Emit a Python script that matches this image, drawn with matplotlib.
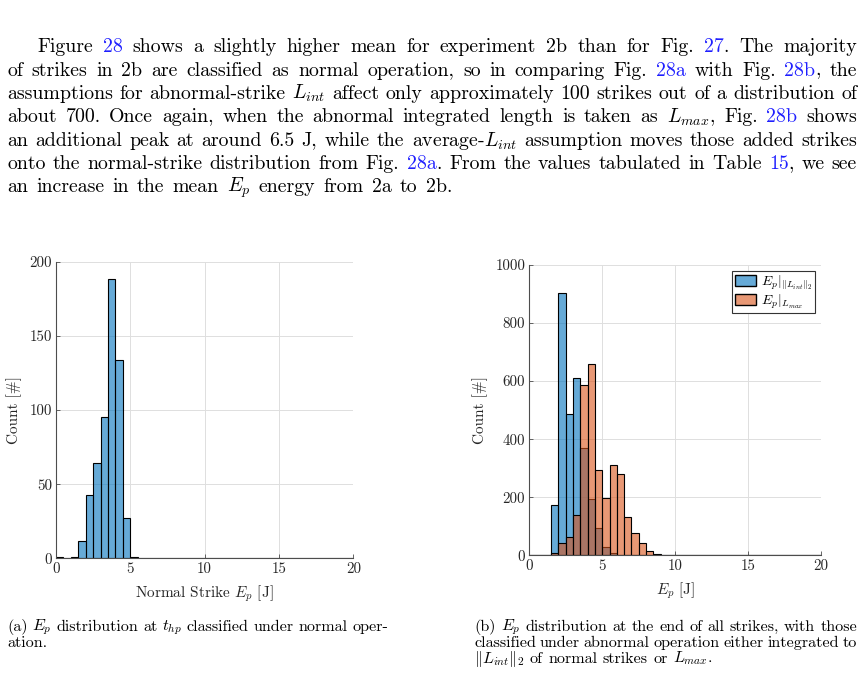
import numpy as np
import matplotlib
matplotlib.use('Agg')
import matplotlib.pyplot as plt
from matplotlib.patches import Patch

plt.rcParams['font.family'] = 'cmr10'
plt.rcParams['mathtext.fontset'] = 'cm'
plt.rcParams['axes.formatter.use_mathtext'] = True

# histogram bins (0.5 J wide, 0..20 J)
bin_edges = np.arange(0, 20.5, 0.5)

# (a) normal strikes at t_hp
counts_normal = [1, 0, 1, 12, 43, 64, 95, 188, 134, 27,
                 1, 0, 0, 0, 0, 0, 0, 0, 0, 0,
                 0, 0, 0, 0, 0, 0, 0, 0, 0, 0,
                 0, 0, 0, 0, 0, 0, 0, 0, 0, 0]
# (b) all strikes, abnormal ones integrated to ||L_int||_2
counts_lint = [2, 0, 0, 172, 905, 486, 612, 368, 194, 93,
               28, 7, 1, 0, 0, 0, 0, 0, 0, 0,
               0, 0, 0, 0, 0, 0, 0, 0, 0, 0,
               0, 0, 0, 0, 0, 0, 0, 0, 0, 0]
# (b) all strikes, abnormal ones integrated to L_max
counts_lmax = [2, 0, 0, 9, 41, 64, 140, 588, 660, 293,
               196, 310, 280, 131, 78, 42, 15, 6, 2, 1,
               0, 0, 0, 0, 0, 0, 0, 0, 0, 0,
               0, 0, 0, 0, 0, 0, 0, 0, 0, 0]

x_ticks = [0, 5, 10, 15, 20]
y_ticks_a = [0, 50, 100, 150, 200]
y_ticks_b = [0, 200, 400, 600, 800, 1000]
legend_labels = [r'$E_p|_{\|L_{int}\|_2}$', r'$E_p|_{L_{max}}$']

paragraph = [
    "Figure @28@ shows a slightly higher mean for experiment 2b than for Fig. @27@. The majority",
    "of strikes in 2b are classified as normal operation, so in comparing Fig. @28a@ with Fig. @28b@, the",
    "assumptions for abnormal-strike $L_{int}$ affect only approximately 100 strikes out of a distribution of",
    "about 700. Once again, when the abnormal integrated length is taken as $L_{max}$, Fig. @28b@ shows",
    "an additional peak at around 6.5 J, while the average-$L_{int}$ assumption moves those added strikes",
    "onto the normal-strike distribution from Fig. @28a@. From the values tabulated in Table @15@, we see",
    "an increase in the mean $E_p$ energy from 2a to 2b.",
]
caption_a = [
    "(a) $E_p$ distribution at $t_{hp}$ classified under normal oper-",
    "ation.",
]
caption_b = [
    "(b) $E_p$ distribution at the end of all strikes, with those",
    "classified under abnormal operation either integrated to",
    r"$\|L_{int}\|_2$ of normal strikes or $L_{max}$.",
]

LINK = '#1f1fff'
BLUE = (0.0, 0.447, 0.741, 0.6)
ORANGE = (0.85, 0.325, 0.098, 0.6)

W, H = 864, 674
fig = plt.figure(figsize=(W / 100, H / 100), dpi=100)
renderer = fig.canvas.get_renderer()


def split_words(s):
    out = []
    for w in s.split():
        parts = w.split('@')
        out.append([(p, LINK if i % 2 else 'black') for i, p in enumerate(parts) if p])
    return out


def put_line(s, x0, x1, y_px, size, justify=True):
    words = split_words(s)
    objs, widths = [], []
    for word in words:
        row, ww = [], 0
        for txt, col in word:
            t = fig.text(0, 1 - y_px / H, txt, fontsize=size, color=col,
                         va='baseline', ha='left')
            w = t.get_window_extent(renderer).width
            row.append((t, w))
            ww += w
        objs.append(row)
        widths.append(ww)
    if justify and len(objs) > 1:
        gap = (x1 - x0 - sum(widths)) / (len(objs) - 1)
    else:
        gap = size * 100 / 72 * 0.33
    x = x0
    for row, ww in zip(objs, widths):
        xx = x
        for t, w in row:
            t.set_x(xx / W)
            xx += w
        x += ww + gap


# paragraph text
for i, line in enumerate(paragraph):
    x0 = 37 if i == 0 else 7
    x1 = 857 if i < len(paragraph) - 1 else 452
    put_line(line, x0, x1, 52.3 + i * 23.3, 14.3)

# captions
for i, line in enumerate(caption_a):
    put_line(line, 7, 388, 630.7 + i * 16, 11.6, justify=(i < len(caption_a) - 1))
for i, line in enumerate(caption_b):
    put_line(line, 474, 857, 630.7 + i * 16, 11.6, justify=(i < len(caption_b) - 1))


def style_axes(ax):
    ax.set_axisbelow(True)
    ax.grid(True, color='#dedede', lw=0.7)
    for s in ['top', 'right']:
        ax.spines[s].set_visible(False)
    for s in ['left', 'bottom']:
        ax.spines[s].set_color('#4d4d4d')
        ax.spines[s].set_linewidth(0.8)
    ax.tick_params(direction='in', length=3, width=0.6, labelsize=10.8,
                   colors='#4d4d4d', labelcolor='#262626', pad=3)
    ax.set_xlim(0, 20)
    ax.set_xticks(x_ticks)
    ax.set_xticklabels([str(v) for v in x_ticks])


# (a)
ax1 = fig.add_axes([56 / W, 1 - 558.3 / H, 297.3 / W, 296.6 / H])
ax1.bar(bin_edges[:-1], counts_normal, width=0.5, align='edge',
        facecolor=BLUE, edgecolor='black', linewidth=0.8)
style_axes(ax1)
ax1.set_ylim(0, 200)
ax1.set_yticks(y_ticks_a)
ax1.set_yticklabels([str(v) for v in y_ticks_a])
ax1.set_xlabel('Normal Strike $E_p$ [J]', fontsize=11, color='#262626', labelpad=5)
ax1.set_ylabel('Count [#]', fontsize=11, color='#262626', labelpad=5)

# (b)
ax2 = fig.add_axes([529.3 / W, 1 - 555.3 / H, 291.7 / W, 290.3 / H])
ax2.bar(bin_edges[:-1], counts_lint, width=0.5, align='edge',
        facecolor=BLUE, edgecolor='black', linewidth=0.8)
ax2.bar(bin_edges[:-1], counts_lmax, width=0.5, align='edge',
        facecolor=ORANGE, edgecolor='black', linewidth=0.8)
style_axes(ax2)
ax2.set_ylim(0, 1000)
ax2.set_yticks(y_ticks_b)
ax2.set_yticklabels([str(v) for v in y_ticks_b])
ax2.set_xlabel('$E_p$ [J]', fontsize=11, color='#262626', labelpad=5)
ax2.set_ylabel('Count [#]', fontsize=11, color='#262626', labelpad=5)

handles = [Patch(facecolor=BLUE, edgecolor='black'),
           Patch(facecolor=ORANGE, edgecolor='black')]
leg = ax2.legend(handles, legend_labels, loc='upper right', fontsize=10,
                 fancybox=False, framealpha=1, edgecolor='#333333',
                 handlelength=1.5, handleheight=0.9, borderpad=0.2,
                 labelspacing=0.05, handletextpad=0.35, borderaxespad=0.4)
leg.get_frame().set_linewidth(0.8)

fig.savefig('out.png', dpi=100)
